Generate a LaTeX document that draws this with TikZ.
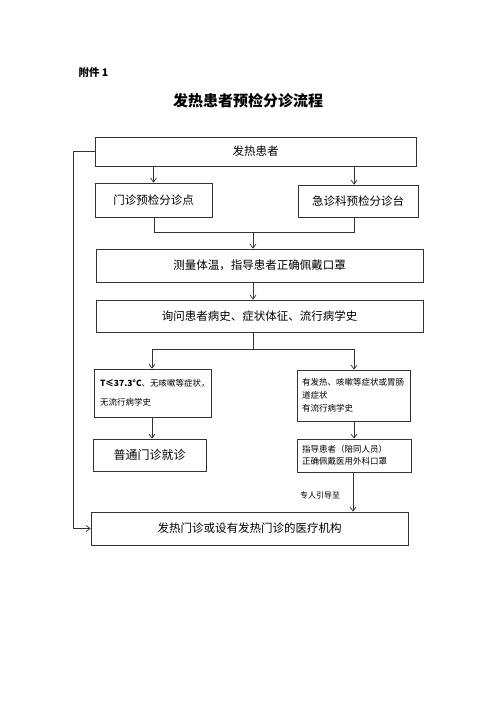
\documentclass[tikz,border=0pt]{standalone}
\usepackage{fontspec}
\setmainfont{Noto Sans CJK SC}
\usetikzlibrary{arrows.meta}
\begin{document}
\begin{tikzpicture}[x=1pt,y=-1pt,
  box/.style={draw=black!80,line width=0.7pt,inner sep=0pt,anchor=center,font=\fontsize{11.5}{13}\selectfont},
  smallbox/.style={box,font=\fontsize{8.5}{13}\selectfont,align=left,text width=#1},
  ln/.style={draw=black!80,line width=0.7pt},
  arr/.style={ln,-{Straight Barb[length=4pt,width=6pt]}}]
\useasboundingbox (0,0) rectangle (496,702);
\node[anchor=west,font=\fontsize{10.5}{12}\selectfont\bfseries] (att) at (75,73) {附件 1};
\node[font=\fontsize{15}{17}\selectfont\bfseries] (title) at (248,101) {发热患者预检分诊流程};
\node[box,minimum width=321pt,minimum height=29pt] (b1) at (255.5,151.5) {发热患者};
\node[box,minimum width=117pt,minimum height=34pt] (b2) at (153.5,200) {门诊预检分诊点};
\node[box,minimum width=120pt,minimum height=32pt] (b3) at (358,201) {急诊科预检分诊台};
\node[box,minimum width=327pt,minimum height=33pt] (b4) at (259.5,265.5) {测量体温，指导患者正确佩戴口罩};
\node[box,minimum width=327pt,minimum height=32pt] (b5) at (259.5,316) {询问患者病史、症状体征、流行病学史};
\node[smallbox=105pt,font=\fontsize{8.5}{19}\selectfont,minimum height=48pt,inner xsep=6pt] (b6) at (152.5,393) {\textbf{T≤37.3°C}、无咳嗽等症状，\\无流行病学史};
\node[smallbox=103pt,minimum height=51pt,inner xsep=5pt] (b7) at (353.5,395.5) {有发热、咳嗽等症状或胃肠\\道症状\\有流行病学史};
\node[box,minimum width=113pt,minimum height=32pt,font=\fontsize{12}{14}\selectfont] (b9) at (149.5,455) {普通门诊就诊};
\node[smallbox=104pt,font=\fontsize{8.5}{12}\selectfont,minimum height=33pt,inner xsep=5pt] (b8) at (354,455.5) {指导患者（陪同人员）\\正确佩戴医用外科口罩};
\node[box,minimum width=317pt,minimum height=33pt] (b10) at (249.5,528.5) {发热门诊或设有发热门诊的医疗机构};
\node[font=\fontsize{8}{10}\selectfont] (lab) at (320,495) {专人引导至};
% connectors
\draw[arr] (b2.north |- b1.south) -- (b2.north);
\draw[arr] ([xshift=-4pt]b3.north |- b1.south) -- ([xshift=-4pt]b3.north);
\coordinate (j1) at (253,232);
\coordinate (jL) at (154,232);
\coordinate (jR) at (354,232);
\draw[ln] (jL |- b2.south) -- (jL) -- (jR) -- (jR |- b3.south);
\draw[arr] (j1) -- (j1 |- b4.north);
\draw[arr] (j1 |- b4.south) -- (j1 |- b5.north);
\coordinate (j2) at (253,349);
\coordinate (kL) at (152,349);
\coordinate (kR) at (354,349);
\draw[ln] (j2 |- b5.south) -- (j2);
\draw[ln] (kL) -- (kR);
\draw[arr] (kL) -- (kL |- b6.north);
\draw[arr] (kR) -- (kR |- b7.north);
\draw[arr] (kL |- b6.south) -- (kL |- b9.north);
\draw[arr] (kR |- b7.south) -- (kR |- b8.north);
\coordinate (m) at (353,0);
\draw[arr] (m |- b8.south) -- (m |- b10.north);
\coordinate (lx) at (73,0);
\draw[arr] (b1.west) -- (lx |- b1.west) -- (lx |- b10.west) -- (b10.west);
\end{tikzpicture}
\end{document}
